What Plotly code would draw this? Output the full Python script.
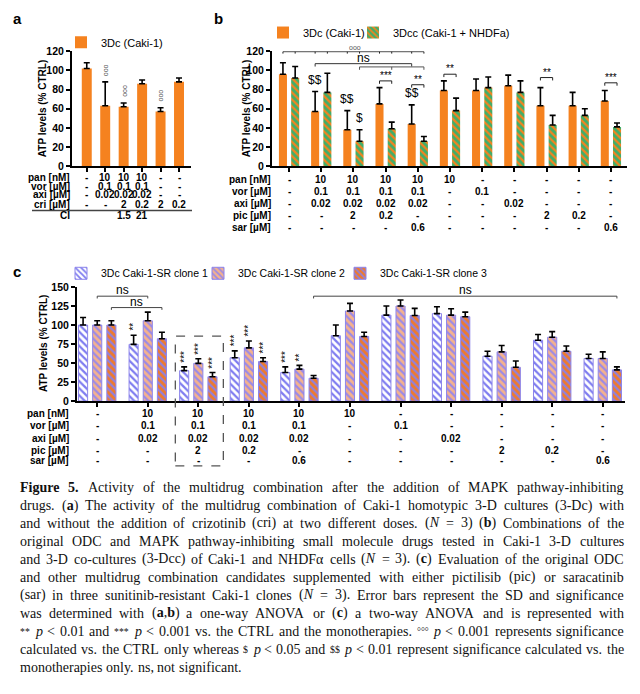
import re
import plotly.graph_objects as go

# ---------------- data ----------------
# panel a
a_groups = ["CTRL", "pan+vor+axi", "ODC+cri 2", "ODC+cri 0.2", "cri 2", "cri 0.2"]
a_caki = [102, 63, 62, 86, 57, 88]
a_caki_sd = [6, 25, 4, 4, 4, 4]
a_sig = ["", "ooo", "ooo", "", "ooo", ""]
a_row_labels = ["pan [nM]", "vor [µM]", "axi [µM]", "cri [µM]"]
a_pan = ["-", "10", "10", "10", "-", "-"]
a_vor = ["-", "0.1", "0.1", "0.1", "-", "-"]
a_axi = ["-", "0.02", "0.02", "0.02", "-", "-"]
a_cri = ["-", "-", "2", "0.2", "2", "0.2"]
a_ci = ["", "", "1.5", "21", "", ""]

# panel b
b_groups = ["CTRL", "ODC", "ODC+pic2", "ODC+pic0.2", "ODC+sar", "pan", "vor", "axi",
            "pic2", "pic0.2", "sar"]
b_3dc = [96, 57, 38, 65, 44, 79, 79, 84, 63, 63, 68]
b_3dc_sd = [12, 21, 20, 17, 20, 10, 12, 11, 19, 14, 11]
b_3dcc = [92, 77, 26, 39, 26, 58, 82, 77, 43, 53, 41]
b_3dcc_sd = [12, 20, 12, 7, 5, 13, 11, 12, 10, 7, 4]
b_dollar_3dc = ["", "$$", "$$", "", "$$", "", "", "", "", "", ""]
b_dollar_3dcc = ["", "", "$", "", "", "", "", "", "", "", ""]
b_pair_groups = [3, 4, 5, 8, 10]
b_pair_y = [89, 85, 96, 92.5, 87]
b_pair_labels = ["***", "**", "**", "**", "***"]
b_row_labels = ["pan [nM]", "vor [µM]", "axi [µM]", "pic [µM]", "sar [µM]"]
b_pan = ["-", "10", "10", "10", "10", "10", "-", "-", "-", "-", "-"]
b_vor = ["-", "0.1", "0.1", "0.1", "0.1", "-", "0.1", "-", "-", "-", "-"]
b_axi = ["-", "0.02", "0.02", "0.02", "0.02", "-", "-", "0.02", "-", "-", "-"]
b_pic = ["-", "-", "2", "0.2", "-", "-", "-", "-", "2", "0.2", "-"]
b_sar = ["-", "-", "-", "-", "0.6", "-", "-", "-", "-", "-", "0.6"]

# panel c
c_groups = b_groups
c_clone1 = [100, 74.6, 40, 57, 37.5, 86, 113, 115, 59, 80, 56]
c_clone1_sd = [10, 12, 5, 9, 7.5, 14, 12, 9, 6.5, 7.5, 5.6]
c_clone2 = [100, 105.6, 49.6, 70, 42, 118.5, 125, 113, 64.7, 84, 56]
c_clone2_sd = [5.6, 11.4, 6, 9, 5, 10, 8, 8.5, 8.3, 7.4, 8.7]
c_clone3 = [100, 82, 32, 52, 30, 85, 112.5, 111, 44.4, 65.5, 41]
c_clone3_sd = [5.6, 8.5, 5.5, 5, 3.6, 5.5, 9.5, 6, 8.2, 7, 4]
c_sig1 = ["", "**", "***", "***", "***", "", "", "", "", "", ""]
c_sig2 = ["", "", "***", "***", "**", "", "", "", "", "", ""]
c_sig3 = ["", "", "***", "***", "", "", "", "", "", "", ""]
c_row_labels = b_row_labels
c_pan, c_vor, c_axi, c_pic, c_sar = b_pan, b_vor, b_axi, b_pic, b_sar

caption_lines = [
    "<b>Figure</b> <b>5.</b> Activity of the multidrug combination after the addition of MAPK pathway-inhibiting",
    "drugs. (<b>a</b>) The activity of the multidrug combination of Caki-1 homotypic 3-D cultures (3-Dc) with",
    "and without the addition of crizotinib (cri) at two different doses. (<i>N</i> = 3) (<b>b</b>) Combinations of the",
    "original ODC and MAPK pathway-inhibiting small molecule drugs tested in Caki-1 3-D cultures",
    "and 3-D co-cultures (3-Dcc) of Caki-1 and NHDFα cells (<i>N</i> = 3). (<b>c</b>) Evaluation of the original ODC",
    "and other multidrug combination candidates supplemented with either pictilisib (pic) or saracatinib",
    "(sar) in three sunitinib-resistant Caki-1 clones (<i>N</i> = 3). Error bars represent the SD and significance",
    "was determined with (<b>a</b>,<b>b</b>) a one-way ANOVA or (<b>c</b>) a two-way ANOVA and is represented with",
    "<sup>**</sup> <i>p</i> &lt; 0.01 and <sup>***</sup> <i>p</i> &lt; 0.001 vs. the CTRL and the monotherapies. <sup>°°°</sup> <i>p</i> &lt; 0.001 represents significance",
    "calculated vs. the CTRL only whereas <sup>$</sup> <i>p</i> &lt; 0.05 and <sup>$$</sup> <i>p</i> &lt; 0.01 represent significance calculated vs. the",
    "monotherapies only. ns, not significant.",
]

# ---------------- styling ----------------
W, H = 640, 694
ORANGE = "#f5821f"
GREEN = "#3fae6a"
FONT = "Liberation Sans, Arial, sans-serif"
SERIF = "Liberation Serif, Times New Roman, serif"


def px(x):
    return x / W


def py(y):
    return 1 - y / H


fig = go.Figure()
ann = []
shapes = []


def axis_common(rng, dom, **kw):
    d = dict(range=rng, domain=dom, showline=True, linewidth=2, linecolor="black",
             ticks="outside", ticklen=4, tickwidth=2, tickcolor="black",
             showgrid=False, zeroline=False, fixedrange=True)
    d.update(kw)
    return d


def err(sd):
    return dict(type="data", array=sd, arrayminus=[0] * len(sd), symmetric=False,
                color="black", thickness=1.6, width=3)


def text(x, y, s, xref="paper", yref="paper", size=10, xanchor="center", yanchor="middle",
         angle=0, color="black", family=None, yshift=0):
    f = dict(size=size, color=color)
    if family:
        f["family"] = family
    ann.append(dict(x=x, y=y, xref=xref, yref=yref, text=s, xanchor=xanchor, yanchor=yanchor,
                    textangle=angle, showarrow=False, font=f, yshift=yshift))


# ---------------- panel a ----------------
ia = list(range(len(a_groups)))
fig.add_trace(go.Bar(x=ia, y=a_caki, width=0.54, offset=-0.27, name="3Dc (Caki-1)",
                     marker=dict(color=ORANGE, line=dict(width=0)),
                     error_y=err(a_caki_sd), xaxis="x", yaxis="y", legend="legend",
                     hovertext=a_groups))
for i, s in enumerate(a_sig):
    if s:
        text(i, a_caki[i] + a_caki_sd[i] + 4, s, "x", "y", size=7, yanchor="bottom",
             angle=-90, color="#555")

# ---------------- panel b ----------------
ib = list(range(len(b_groups)))
fig.add_trace(go.Bar(x=ib, y=b_3dc, width=0.25, offset=-0.315, name="3Dc (Caki-1)",
                     marker=dict(color=ORANGE, line=dict(width=0)),
                     error_y=err(b_3dc_sd), xaxis="x2", yaxis="y2", legend="legend2",
                     hovertext=b_groups))
fig.add_trace(go.Bar(x=ib, y=b_3dcc, width=0.25, offset=0.065, name="3Dcc (Caki-1 + NHDFa)",
                     marker=dict(color=GREEN, line=dict(width=0),
                                 pattern=dict(shape="\\", fgcolor=ORANGE, bgcolor=GREEN,
                                              size=5, solidity=0.45, fillmode="replace")),
                     error_y=err(b_3dcc_sd), xaxis="x2", yaxis="y2", legend="legend3",
                     hovertext=b_groups))
for i, s in enumerate(b_dollar_3dc):
    if s:
        text(i - 0.19, b_3dc[i] + b_3dc_sd[i] + 3, s, "x2", "y2", size=12, yanchor="bottom")
for i, s in enumerate(b_dollar_3dcc):
    if s:
        text(i + 0.19, b_3dcc[i] + b_3dcc_sd[i] + 3, s, "x2", "y2", size=12, yanchor="bottom")


def bracket(xr, yr, x0, x1, y, drop, ticks, color="#222", w=1):
    shapes.append(dict(type="line", xref=xr, yref=yr, x0=x0, x1=x1, y0=y, y1=y,
                       line=dict(color=color, width=w)))
    for t in ticks:
        shapes.append(dict(type="line", xref=xr, yref=yr, x0=t, x1=t, y0=y, y1=y - drop,
                           line=dict(color=color, width=w)))


for g, yv, lab in zip(b_pair_groups, b_pair_y, b_pair_labels):
    bracket("x2", "y2", g - 0.19, g + 0.19, yv, 3, [g - 0.19, g + 0.19])
    text(g, yv, lab, "x2", "y2", size=10, yanchor="bottom", yshift=-2)

# °°° bracket: CTRL vs combinations (all bars of groups 0-4)
top_ticks = []
for g in range(5):
    top_ticks += [g - 0.19, g + 0.19]
bracket("x2", "y2", -0.19, 4.19, 119.5, 2, top_ticks)
text(2.05, 119.5, "ooo", "x2", "y2", size=7, yanchor="bottom", color="#555", yshift=-1)
# ns brackets
bracket("x2", "y2", 0.81, 3.81, 107, 3, [0.81, 3.81], color="#333")
bracket("x2", "y2", 2.19, 4.19, 103.6, 3, [2.19, 3.19, 4.19], color="#555")
text(2.3, 107, "ns", "x2", "y2", size=12, yanchor="bottom", yshift=-3)

# ---------------- panel c ----------------
ic = list(range(len(c_groups)))
clone_styles = [
    ("3Dc Caki-1-SR clone 1", c_clone1, c_clone1_sd, "#ffffff", "#7e7cf0", -0.37, "legend4", c_sig1),
    ("3Dc Caki-1-SR clone 2", c_clone2, c_clone2_sd, "#f5b28c", "#9c8ae6", -0.09, "legend5", c_sig2),
    ("3Dc Caki-1-SR clone 3", c_clone3, c_clone3_sd, "#f07a2a", "#9080dc", 0.19, "legend6", c_sig3),
]
for name, vals, sd, bg, fg, off, leg, sig in clone_styles:
    fig.add_trace(go.Bar(x=ic, y=vals, width=0.18, offset=off, name=name,
                         marker=dict(color=bg, line=dict(width=1, color="#8c84ea"),
                                     pattern=dict(shape="\\", fgcolor=fg, bgcolor=bg,
                                                  size=5, solidity=0.45, fillmode="replace")),
                         error_y=err(sd), xaxis="x3", yaxis="y3", legend=leg,
                         hovertext=c_groups))
    for i, s in enumerate(sig):
        if s:
            text(i + off + 0.09, vals[i] + sd[i] + 3, s, "x3", "y3", size=10,
                 yanchor="bottom", angle=-90)

bracket("x3", "y3", 0.0, 1.0, 138, 3, [0.0, 1.0], color="#444")
text(0.5, 138, "ns", "x3", "y3", size=12, yanchor="bottom", yshift=-3)
bracket("x3", "y3", 0.28, 1.28, 123, 3, [0.28, 1.28], color="#444")
text(0.78, 123, "ns", "x3", "y3", size=12, yanchor="bottom", yshift=-3)
bracket("x3", "y3", 4.28, 10.28, 138, 3, [4.28, 10.28], color="#444")
text(7.29, 138, "ns", "x3", "y3", size=12, yanchor="bottom", yshift=-3)
# dashed box around ODC + pic 2
shapes.append(dict(type="rect", xref="x3", yref="paper", x0=1.545, x1=2.495,
                   y0=py(468), y1=py(336), line=dict(color="#555", width=1.3, dash="dash")))

# ---------------- tables ----------------


def table(labels, rows, ys, xref, label_x, size=10):
    for lab, vals, y in zip(labels, rows, ys):
        text(px(label_x), py(y), "<b>%s</b>" % lab, size=size, xanchor="right")
        for i, v in enumerate(vals):
            if v:
                text(i, py(y), "<b>%s</b>" % v, xref=xref, size=size)


table(a_row_labels + ["CI"], [a_pan, a_vor, a_axi, a_cri, a_ci], [175, 183.5, 192, 201.5, 213.5],
      "x", 72)
shapes.append(dict(type="line", xref="paper", yref="paper", x0=px(32), x1=px(192),
                   y0=py(208), y1=py(208), line=dict(color="#444", width=1.5)))
table(b_row_labels, [b_pan, b_vor, b_axi, b_pic, b_sar], [177, 189, 201, 213, 225], "x2", 273)
table(c_row_labels, [c_pan, c_vor, c_axi, c_pic, c_sar], [415, 427, 440, 452, 463], "x3", 71)

# panel letters & y titles
for lab, x, y in [("a", 17, 13), ("b", 218, 13), ("c", 17, 270)]:
    text(px(x), py(y), "<b>%s</b>" % lab, size=15)
for x, y in [(42, 105), (246, 105), (43, 344)]:
    text(px(x), py(y), "<b>ATP levels (% CTRL)</b>", size=10, angle=-90)

# ---------------- caption (justified, word by word) ----------------
TW = {' ': 250, '!': 333, '$': 500, '%': 833, "'": 180, '(': 333, ')': 333, '*': 500,
      '+': 564, ',': 250, '-': 333, '.': 250, '/': 278, ':': 278, ';': 278, '<': 564,
      '=': 564, '>': 564, '?': 444, '°': 400, 'α': 520, '[': 333, ']': 333}
for ch in "0123456789":
    TW[ch] = 500
TW.update(dict(zip("ABCDEFGHIJKLMNOPQRSTUVWXYZ",
                   [722, 667, 667, 722, 611, 556, 722, 722, 333, 389, 722, 611, 889, 722, 722,
                    556, 722, 667, 556, 611, 722, 722, 944, 722, 722, 611])))
TW.update(dict(zip("abcdefghijklmnopqrstuvwxyz",
                   [444, 500, 444, 500, 444, 333, 500, 500, 278, 278, 500, 278, 778, 500, 500,
                    500, 500, 333, 389, 278, 500, 500, 722, 500, 500, 444])))


def word_width(word, size):
    w = 0.0
    bold = sup = False
    for tok in re.split(r"(<[^>]+>|&lt;)", word):
        if not tok:
            continue
        if tok.startswith("<"):
            t = tok.strip("<>/")
            on = not tok.startswith("</")
            if t == "b":
                bold = on
            elif t == "sup":
                sup = on
            continue
        if tok == "&lt;":
            tok = "<"
        for ch in tok:
            cw = TW.get(ch, 500) * (1.07 if bold else 1.0) * (0.7 if sup else 1.0)
            w += cw * size / 1000.0
    return w


CAP_SIZE = 14
CAP_X0, CAP_X1 = 18, 622
for k, line in enumerate(caption_lines):
    words = line.split(" ")
    widths = [word_width(w, CAP_SIZE) for w in words]
    if k == len(caption_lines) - 1:
        gap = TW[' '] * CAP_SIZE / 1000.0
    else:
        gap = (CAP_X1 - CAP_X0 - sum(widths)) / (len(words) - 1)
    xpos = CAP_X0
    yc = 490 + 18.3 * k
    for w, wd in zip(words, widths):
        text(px(xpos), py(yc), w, size=CAP_SIZE, xanchor="left", color="#111", family=SERIF)
        xpos += wd + gap

# ---------------- layout ----------------
dom_ab = [py(163), py(46)]
dom_c = [py(402), py(286)]
tickfont = dict(size=10.5, weight="bold", color="black")


def leg(xtext, ycen, size=11):
    return dict(x=px(xtext - 40), y=py(ycen), xanchor="left", yanchor="middle",
                bgcolor="rgba(0,0,0,0)", font=dict(size=size, color="black"),
                orientation="h", borderwidth=0, tracegroupgap=0)


fig.update_layout(
    width=W, height=H, margin=dict(l=0, r=0, t=0, b=0),
    paper_bgcolor="white", plot_bgcolor="white",
    font=dict(family=FONT, color="black", size=10),
    barmode="overlay", showlegend=True,
    xaxis=axis_common([-0.8, 5.65], [px(72), px(191)], tickmode="array", tickvals=ia,
                      showticklabels=False, anchor="y"),
    yaxis=axis_common([0, 120], dom_ab, dtick=20, tickfont=tickfont, anchor="x"),
    xaxis2=axis_common([-0.53, 10.5], [px(272), px(627)], tickmode="array", tickvals=ib,
                       showticklabels=False, anchor="y2"),
    yaxis2=axis_common([0, 120], dom_ab, dtick=20, tickfont=tickfont, anchor="x2"),
    xaxis3=axis_common([-0.4, 10.44], [px(77), px(625)], tickmode="array", tickvals=ic,
                       showticklabels=False, anchor="y3"),
    yaxis3=axis_common([0, 150], dom_c, dtick=25, tickfont=tickfont, anchor="x3"),
    legend=leg(101, 37),
    legend2=leg(303, 27),
    legend3=leg(393, 27),
    legend4=leg(101, 272, 10.5),
    legend5=leg(238, 272, 10.5),
    legend6=leg(380, 272, 10.5),
    annotations=ann,
    shapes=shapes,
)

fig.write_html("out.html", config={"displayModeBar": False},
               post_script="document.body.style.margin='0px';")
